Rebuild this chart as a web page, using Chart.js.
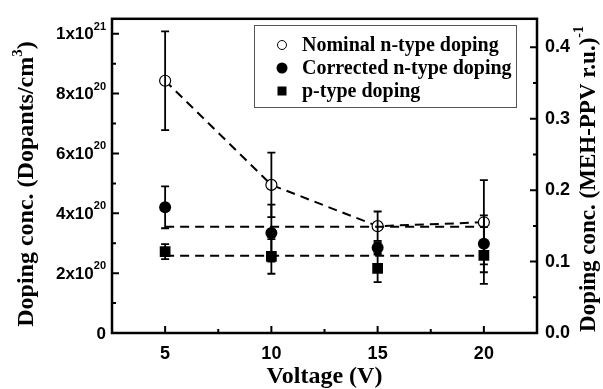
<!DOCTYPE html>
<html><head><meta charset="utf-8">
<script src="https://cdn.jsdelivr.net/npm/chart.js@4.4.0/dist/chart.umd.min.js"></script>
<style>html,body{margin:0;padding:0;background:#fff}#wrap{width:603px;height:389px;position:relative}</style>
</head><body><div id="wrap"><canvas id="c"></canvas></div>
<script>
const voltages = [5, 10, 15, 20];
const nominal = [8.43e20, 4.95e20, 3.57e20, 3.70e20];
const nominalErr = [1.65e20, 1.08e20, 0.49e20, 1.41e20];
const corrected = [4.20e20, 3.34e20, 2.85e20, 2.98e20];
const correctedErr = [0.70e20, 0.95e20, 0.18e20, 0.95e20];
const pType = [2.72e20, 2.56e20, 2.16e20, 2.59e20];
const pTypeErr = [0.25e20, 0.58e20, 0.46e20, 0.95e20];
const levelX = [5, 20];
const nLevel = [3.55e20, 3.55e20];
const pLevel = [2.58e20, 2.58e20];
const xTicks = [5, 10, 15, 20];
const xMinor = [7.5, 12.5, 17.5];
const leftTicks = [0, 2e20, 4e20, 6e20, 8e20, 1e21];
const leftTickBase = ['0', '2x10', '4x10', '6x10', '8x10', '1x10'];
const leftTickExp = ['', '20', '20', '20', '20', '21'];
const leftMinor = [1e20, 3e20, 5e20, 7e20, 9e20];
const rightTicks = [0, 0.1, 0.2, 0.3, 0.4];
const rightMinor = [0.05, 0.15, 0.25, 0.35];
const legendLabels = ['Nominal n-type doping', 'Corrected n-type doping', 'p-type doping'];

const pts = (xs, ys) => xs.map((x, i) => ({x, y: ys[i]}));
const SERIF = '"Liberation Serif", "Times New Roman", serif';
const SANS = '"Liberation Sans", Arial, sans-serif';

const deco = {
  id: 'deco',
  afterDatasetsDraw(chart) {
    const ctx = chart.ctx, xs = chart.scales.x, ys = chart.scales.y;
    ctx.save();
    ctx.strokeStyle = '#000'; ctx.lineWidth = 1.8;
    [[nominal, nominalErr], [corrected, correctedErr], [pType, pTypeErr]].forEach(([vals, errs]) => {
      vals.forEach((v, i) => {
        const x = xs.getPixelForValue(voltages[i]);
        const yt = ys.getPixelForValue(v + errs[i]);
        const yb = ys.getPixelForValue(v - errs[i]);
        ctx.beginPath();
        ctx.moveTo(x, yt); ctx.lineTo(x, yb);
        ctx.moveTo(x - 4, yt); ctx.lineTo(x + 4, yt);
        ctx.moveTo(x - 4, yb); ctx.lineTo(x + 4, yb);
        ctx.stroke();
      });
    });
    ctx.restore();
  },
  afterDraw(chart) {
    const ctx = chart.ctx, a = chart.chartArea;
    const xs = chart.scales.x, ys = chart.scales.y, yr = chart.scales.y1;
    ctx.save();
    ctx.strokeStyle = '#000';
    ctx.lineWidth = 2.5;
    ctx.strokeRect(a.left, a.top, a.right - a.left, a.bottom - a.top);
    ctx.lineWidth = 2;
    ctx.beginPath();
    xTicks.forEach(v => { const x = xs.getPixelForValue(v); ctx.moveTo(x, a.bottom); ctx.lineTo(x, a.bottom - 7); });
    xMinor.forEach(v => { const x = xs.getPixelForValue(v); ctx.moveTo(x, a.bottom); ctx.lineTo(x, a.bottom - 4); });
    leftTicks.forEach(v => { const y = ys.getPixelForValue(v); ctx.moveTo(a.left, y); ctx.lineTo(a.left + 7, y); });
    leftMinor.forEach(v => { const y = ys.getPixelForValue(v); ctx.moveTo(a.left, y); ctx.lineTo(a.left + 4, y); });
    rightTicks.forEach(v => { const y = yr.getPixelForValue(v); ctx.moveTo(a.right, y); ctx.lineTo(a.right - 7, y); });
    rightMinor.forEach(v => { const y = yr.getPixelForValue(v); ctx.moveTo(a.right, y); ctx.lineTo(a.right - 4, y); });
    ctx.stroke();

    // left tick labels with superscripts
    ctx.fillStyle = '#000';
    ctx.textBaseline = 'middle';
    const rx = 106;
    leftTicks.forEach((v, i) => {
      const y = ys.getPixelForValue(v);
      ctx.font = 'bold 11px ' + SANS;
      const ew = leftTickExp[i] ? ctx.measureText(leftTickExp[i]).width : 0;
      ctx.textAlign = 'right';
      if (leftTickExp[i]) ctx.fillText(leftTickExp[i], rx, y - 7);
      ctx.font = 'bold 17px ' + SANS;
      ctx.fillText(leftTickBase[i], rx - ew, y + 1);
    });

    // left axis title
    ctx.save();
    ctx.translate(25, 184);
    ctx.rotate(-Math.PI / 2);
    const t1 = 'Doping conc. (Dopants/cm', t1s = '3', t1e = ')';
    ctx.font = 'bold 24px ' + SERIF; const w1 = ctx.measureText(t1).width, w3 = ctx.measureText(t1e).width;
    ctx.font = 'bold 15px ' + SERIF; const w2 = ctx.measureText(t1s).width;
    let sx = -(w1 + w2 + w3) / 2;
    ctx.textAlign = 'left'; ctx.textBaseline = 'alphabetic';
    ctx.font = 'bold 24px ' + SERIF; ctx.fillText(t1, sx, 8);
    ctx.font = 'bold 15px ' + SERIF; ctx.fillText(t1s, sx + w1, -3);
    ctx.font = 'bold 24px ' + SERIF; ctx.fillText(t1e, sx + w1 + w2, 8);
    ctx.restore();

    // right axis title
    ctx.save();
    ctx.translate(588, 179);
    ctx.rotate(-Math.PI / 2);
    const r1 = 'Doping conc. (MEH-PPV r.u.)', r2 = '-1';
    ctx.font = 'bold 23px ' + SERIF; const q1 = ctx.measureText(r1).width;
    ctx.font = 'bold 14px ' + SERIF; const q2 = ctx.measureText(r2).width;
    sx = -(q1 + q2) / 2;
    ctx.textAlign = 'left'; ctx.textBaseline = 'alphabetic';
    ctx.font = 'bold 23px ' + SERIF; ctx.fillText(r1, sx, 7);
    ctx.font = 'bold 14px ' + SERIF; ctx.fillText(r2, sx + q1, -5);
    ctx.restore();

    // x title
    ctx.font = 'bold 24px ' + SERIF;
    ctx.textAlign = 'center'; ctx.textBaseline = 'middle';
    ctx.fillText('Voltage (V)', (a.left + a.right) / 2, 377);

    // legend
    ctx.lineWidth = 1; ctx.strokeStyle = '#555';
    ctx.strokeRect(254.5, 25.5, 262, 82);
    const rows = [45, 68, 91], mx = 282;
    ctx.strokeStyle = '#000'; ctx.fillStyle = '#fff';
    ctx.beginPath(); ctx.arc(mx, rows[0], 4.5, 0, Math.PI * 2); ctx.fill(); ctx.stroke();
    ctx.fillStyle = '#000';
    ctx.beginPath(); ctx.arc(mx, rows[1], 5.5, 0, Math.PI * 2); ctx.fill();
    ctx.fillRect(mx - 4.5, rows[2] - 4.5, 9, 9);
    ctx.font = 'bold 20px ' + SERIF;
    ctx.textAlign = 'left'; ctx.textBaseline = 'middle';
    legendLabels.forEach((t, i) => ctx.fillText(t, 302, rows[i] + 1));
    ctx.restore();
  }
};

new Chart(document.getElementById('c'), {
  type: 'scatter',
  data: {
    datasets: [
      {label: 'nLevel', data: pts(levelX, nLevel), showLine: true, borderColor: '#000', borderWidth: 2, borderDash: [9, 6], pointRadius: 0, fill: false},
      {label: 'pLevel', data: pts(levelX, pLevel), showLine: true, borderColor: '#000', borderWidth: 2, borderDash: [9, 6], pointRadius: 0, fill: false},
      {label: legendLabels[0], data: pts(voltages, nominal), showLine: true, borderColor: '#000', borderWidth: 2, borderDash: [9, 6],
        pointStyle: 'circle', pointRadius: 5.5, pointBackgroundColor: '#fff', pointBorderColor: '#000', pointBorderWidth: 1.2, fill: false},
      {label: legendLabels[1], data: pts(voltages, corrected), showLine: false,
        pointStyle: 'circle', pointRadius: 6, pointBackgroundColor: '#000', pointBorderColor: '#000', pointBorderWidth: 0},
      {label: legendLabels[2], data: pts(voltages, pType), showLine: false,
        pointStyle: 'rect', pointRadius: 7.6, pointBackgroundColor: '#000', pointBorderColor: '#000', pointBorderWidth: 0}
    ]
  },
  options: {
    responsive: true, maintainAspectRatio: false, animation: false,
    layout: {padding: {top: 14, left: 0, right: 0, bottom: 0}},
    plugins: {legend: {display: false}, tooltip: {enabled: false}},
    scales: {
      x: {
        type: 'linear', min: 2.5, max: 22.5,
        afterBuildTicks: s => { s.ticks = xTicks.map(v => ({value: v})); },
        afterFit: s => { s.height = 56; },
        grid: {display: false, drawTicks: false}, border: {display: false},
        ticks: {color: '#000', font: {family: SANS, size: 18, weight: 'bold'}, padding: 10, callback: v => String(v)}
      },
      y: {
        type: 'linear', position: 'left', min: 0, max: 1.05e21,
        afterFit: s => { s.width = 112; },
        grid: {display: false, drawTicks: false}, border: {display: false},
        ticks: {display: false}
      },
      y1: {
        type: 'linear', position: 'right', min: 0, max: 0.44,
        afterBuildTicks: s => { s.ticks = rightTicks.map(v => ({value: v})); },
        afterFit: s => { s.width = 66; },
        grid: {display: false, drawTicks: false}, border: {display: false},
        ticks: {color: '#000', font: {family: SANS, size: 18, weight: 'bold'}, padding: 8, callback: v => v.toFixed(1)}
      }
    }
  },
  plugins: [deco]
});
</script>
</body></html>
